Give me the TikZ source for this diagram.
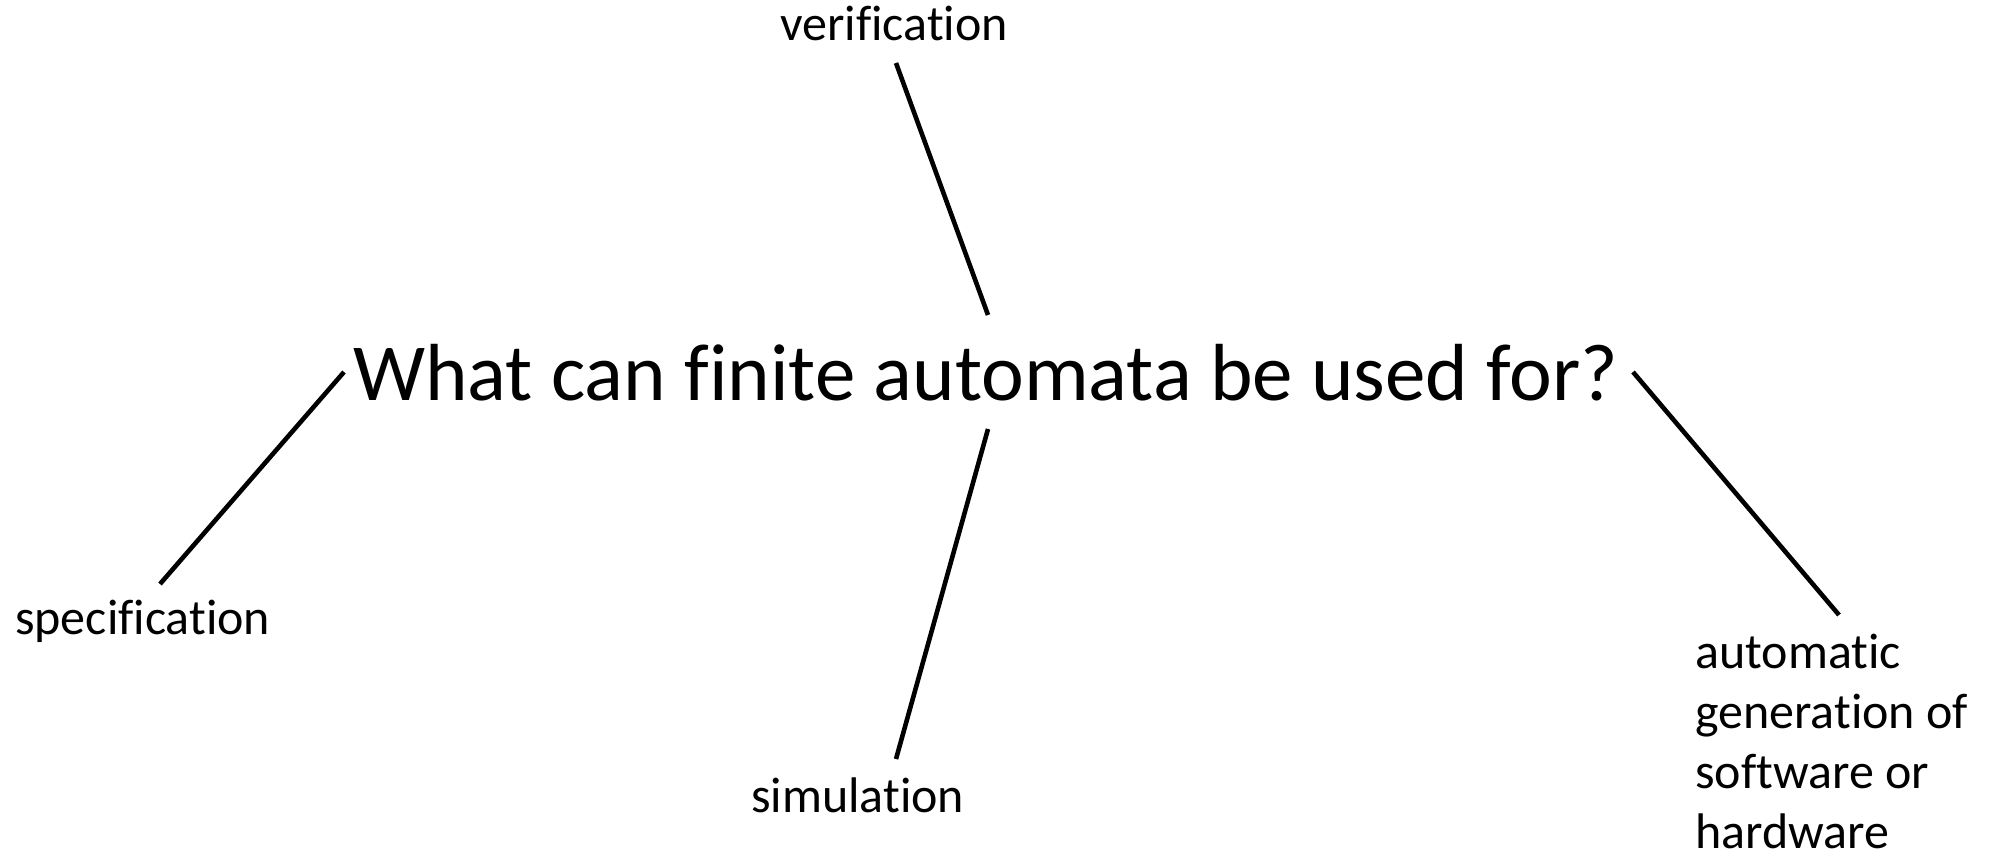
\documentclass[tikz,border=0pt]{standalone}
\usepackage{fontspec}
\setmainfont{Carlito}[Ligatures=CommonOff]
\begin{document}
\begin{tikzpicture}[x=1pt,y=-1pt,
  lbl/.style={inner sep=0pt,anchor=base west,font=\fontsize{50}{60}\selectfont,align=left},
  conn/.style={line width=4.6pt}]
\useasboundingbox[fill=white] (0,0) rectangle (1989,858);
\node[inner sep=0pt,anchor=base west,font=\fontsize{81}{90}\selectfont] (q) at (353,401) {What can finite automata be used for?};
\node[lbl] (ver) at (780,41) {verification};
\node[lbl] (spec) at (15,634) {specification};
\node[lbl] (sim) at (751,812) {simulation};
\node[lbl] (auto) at (1695,848) {automatic\\generation of\\software or\\hardware};
\coordinate (v1) at (896,63);
\coordinate (v2) at (988,315);
\coordinate (s1) at (344,372);
\coordinate (s2) at (160,584);
\coordinate (m1) at (988,429);
\coordinate (m2) at (896,759);
\coordinate (a1) at (1633,372);
\coordinate (a2) at (1839,615);
\draw[conn] (v1) -- (v2);
\draw[conn] (s1) -- (s2);
\draw[conn] (m1) -- (m2);
\draw[conn] (a1) -- (a2);
\end{tikzpicture}
\end{document}
